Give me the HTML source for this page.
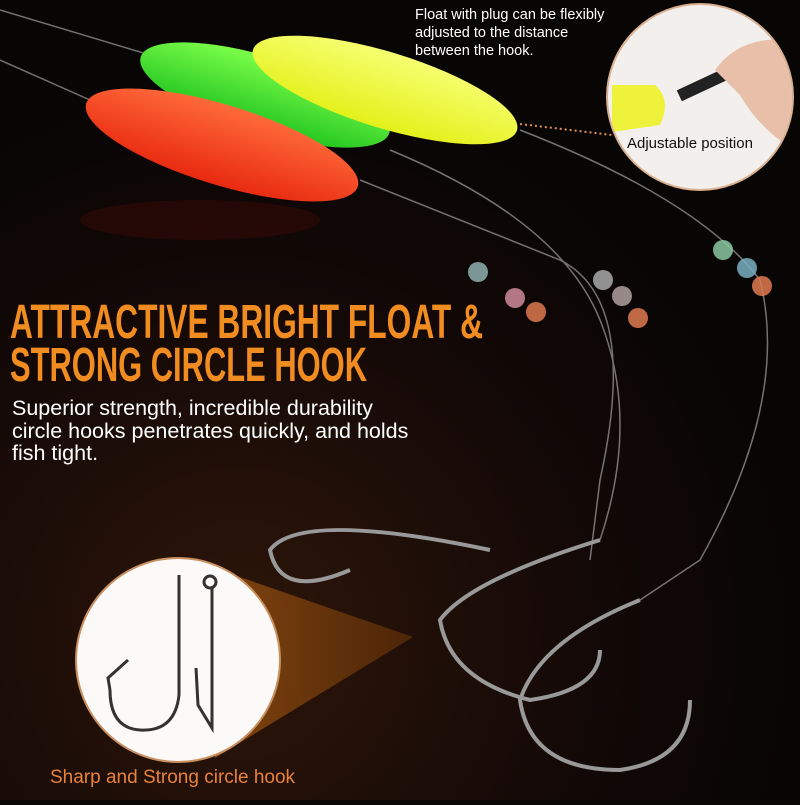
<!DOCTYPE html>
<html><head><meta charset="utf-8"><style>
html,body{margin:0;padding:0;}
body{width:800px;height:800px;overflow:hidden;background:#0b0706;font-family:"Liberation Sans",sans-serif;}
</style></head><body>
<svg width="800" height="800" viewBox="0 0 800 800" xmlns="http://www.w3.org/2000/svg">
<defs>
<radialGradient id="bg" cx="0.3" cy="0.8" r="0.7">
<stop offset="0" stop-color="#2e160a"/><stop offset="0.6" stop-color="#140907"/><stop offset="1" stop-color="#080505"/>
</radialGradient>
<linearGradient id="cone" x1="0" y1="0" x2="1" y2="0">
<stop offset="0" stop-color="#8a4a10" stop-opacity="0.95"/><stop offset="1" stop-color="#6a3408" stop-opacity="0.6"/>
</linearGradient>
<linearGradient id="g" x1="0" y1="0" x2="0" y2="1"><stop offset="0" stop-color="#7dff4a"/><stop offset="1" stop-color="#1ec21e"/></linearGradient>
<linearGradient id="y" x1="0" y1="0" x2="0" y2="1"><stop offset="0" stop-color="#f6ff70"/><stop offset="1" stop-color="#e4f01a"/></linearGradient>
<linearGradient id="r" x1="0" y1="0" x2="0" y2="1"><stop offset="0" stop-color="#ff6a3a"/><stop offset="1" stop-color="#e82a10"/></linearGradient>
<clipPath id="tc"><circle cx="700" cy="97" r="92"/></clipPath>
</defs>
<rect width="800" height="800" fill="url(#bg)"/>
<g stroke="#bbb" stroke-width="1.5" fill="none" opacity="0.6">
<path d="M0 10 L150 55"/><path d="M0 60 L90 100"/>
<path d="M360 180 L560 260 Q640 300 600 480 L590 560"/>
<path d="M390 150 Q560 220 600 320 Q640 420 600 540"/>
<path d="M520 130 Q700 200 760 280 Q790 400 700 560 L640 600"/>
</g>
<g transform="rotate(17 265 95)"><ellipse cx="265" cy="95" rx="130" ry="38" fill="url(#g)"/></g>
<g transform="rotate(17 385 90)"><ellipse cx="385" cy="90" rx="138" ry="38" fill="url(#y)"/></g>
<g transform="rotate(17 222 145)"><ellipse cx="222" cy="145" rx="142" ry="40" fill="url(#r)"/></g>
<ellipse cx="200" cy="220" rx="120" ry="20" fill="#3a0a05" opacity="0.5"/>
<g opacity="0.85">
<circle cx="478" cy="272" r="10" fill="#8fb0b0"/><circle cx="515" cy="298" r="10" fill="#d08a9a"/><circle cx="536" cy="312" r="10" fill="#e07a50"/>
<circle cx="603" cy="280" r="10" fill="#aaa"/><circle cx="622" cy="296" r="10" fill="#b0a0a0"/><circle cx="638" cy="318" r="10" fill="#e07a50"/>
<circle cx="723" cy="250" r="10" fill="#8ac8a0"/><circle cx="747" cy="268" r="10" fill="#7ab0c0"/><circle cx="762" cy="286" r="10" fill="#e07a50"/>
</g>
<g stroke="#999" stroke-width="4" fill="none">
<path d="M490 550 Q300 510 270 550 Q280 600 350 570"/>
<path d="M600 540 Q470 580 440 620 Q450 680 530 700 Q600 690 600 650"/>
<path d="M640 600 Q540 640 520 700 Q530 770 620 770 Q690 760 690 700"/>
</g>
<polygon points="205,565 413,637 215,758" fill="url(#cone)"/>
<circle cx="700" cy="97" r="93" fill="#f2efec" stroke="#d8b090" stroke-width="2"/>
<g clip-path="url(#tc)">
<path d="M612 85 L655 85 Q672 100 660 125 L612 132 Z" fill="#eef23a"/>
<rect x="676" y="75" width="70" height="12" fill="#222" transform="rotate(-25 711 81)"/>
<path d="M715 70 Q740 35 790 40 L795 150 Q760 130 740 95 Z" fill="#e8bfa8"/>
</g>
<line x1="520" y1="124" x2="612" y2="135" stroke="#e09050" stroke-width="2" stroke-dasharray="2 3"/>
<text x="627" y="148" font-size="15" fill="#111">Adjustable position</text>
<circle cx="178" cy="660" r="102" fill="#fbfaf9" stroke="#c89060" stroke-width="2"/>
<g stroke="#333" stroke-width="3" fill="none">
<path d="M179 575 L179 695 Q175 732 140 730 Q110 728 110 690 L108 678 L128 660"/>
<path d="M212 587 L212 728 L198 705 L196 668"/>
<circle cx="210" cy="582" r="6"/>
</g>
<text x="415" y="19" font-size="14.5" fill="#fff">Float with plug can be flexibly</text>
<text x="415" y="37" font-size="14.5" fill="#fff">adjusted to the distance</text>
<text x="415" y="55" font-size="14.5" fill="#fff">between the hook.</text>
<text x="10" y="338" font-size="48" font-weight="bold" fill="#f08c20" textLength="473" lengthAdjust="spacingAndGlyphs">ATTRACTIVE BRIGHT FLOAT &amp;</text>
<text x="10" y="381" font-size="48" font-weight="bold" fill="#f08c20" textLength="357" lengthAdjust="spacingAndGlyphs">STRONG CIRCLE HOOK</text>
<text x="12" y="415" font-size="21.5" fill="#fff">Superior strength, incredible durability</text>
<text x="12" y="438" font-size="21.5" fill="#fff">circle hooks penetrates quickly, and holds</text>
<text x="12" y="460" font-size="21.5" fill="#fff">fish tight.</text>
<text x="50" y="783" font-size="19" fill="#e8823a">Sharp and Strong circle hook</text>
</svg>
</body></html>
